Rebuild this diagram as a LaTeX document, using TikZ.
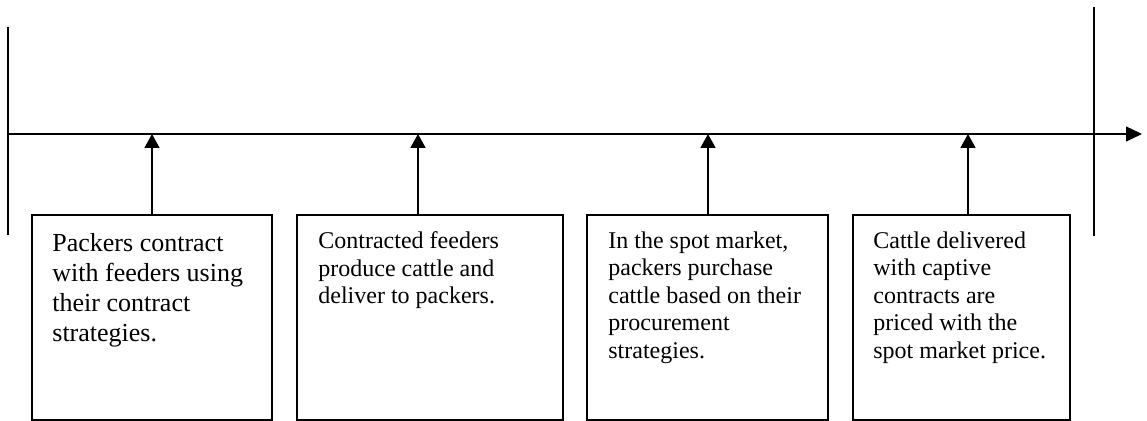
\documentclass[tikz,border=0pt]{standalone}
\usepackage{fontspec}
\setmainfont{Liberation Serif}
\usetikzlibrary{arrows.meta}
\begin{document}
\begin{tikzpicture}[x=0.5pt,y=-0.5pt,
  axisline/.style={line width=0.6pt,black},
  stagebox/.style={draw,line width=0.9pt,minimum height=102.5pt,inner sep=0pt,outer sep=0pt},
  pointer/.style={line width=0.9pt,-{Triangle[length=7pt,width=7.5pt]}},
  boxtext/.style={anchor=north west,inner sep=0pt,align=left,font=\fontsize{12}{13.75}\selectfont},
  bigtext/.style={boxtext,font=\fontsize{13}{15}\selectfont}]
\useasboundingbox (0,0) rectangle (1147,421);
% timeline
\coordinate (L) at (8,134);
\coordinate (R) at (1142,134);
\coordinate (lt) at (8,27);
\coordinate (lb) at (8,235);
\coordinate (rt) at (1094,7);
\coordinate (rb) at (1094,236);
\draw[axisline,-{Triangle[length=8pt,width=7.5pt]}] (L) -- (R);
\draw[axisline] (lt) -- (lb);
\draw[axisline] (rt) -- (rb);
% boxes
\node[stagebox,minimum width=120pt] (b1) at (152,317.5) {};
\node[stagebox,minimum width=133pt] (b2) at (430,317.5) {};
\node[stagebox,minimum width=120.5pt] (b3) at (707.5,317.5) {};
\node[stagebox,minimum width=108.5pt] (b4) at (961.5,317.5) {};
% texts
\node[bigtext] (t1) at ([xshift=10pt,yshift=-9pt]b1.north west) {Packers contract\\with feeders using\\their contract\\strategies.};
\node[boxtext] (t2) at ([xshift=10.5pt,yshift=-8.2pt]b2.north west) {Contracted feeders\\produce cattle and\\deliver to packers.};
\node[boxtext] (t3) at ([xshift=10.5pt,yshift=-8.2pt]b3.north west) {In the spot market,\\packers purchase\\cattle based on their\\procurement\\strategies.};
\node[boxtext] (t4) at ([xshift=10pt,yshift=-8.2pt]b4.north west) {Cattle delivered\\with captive\\contracts are\\priced with the\\spot market price.};
% pointers
\coordinate (p1) at (152,134);
\coordinate (p2) at (418,134);
\coordinate (p3) at (708,134);
\coordinate (p4) at (968,134);
\draw[pointer] (p1 |- b1.north) -- (p1);
\draw[pointer] (p2 |- b2.north) -- (p2);
\draw[pointer] (p3 |- b3.north) -- (p3);
\draw[pointer] (p4 |- b4.north) -- (p4);
\end{tikzpicture}
\end{document}
